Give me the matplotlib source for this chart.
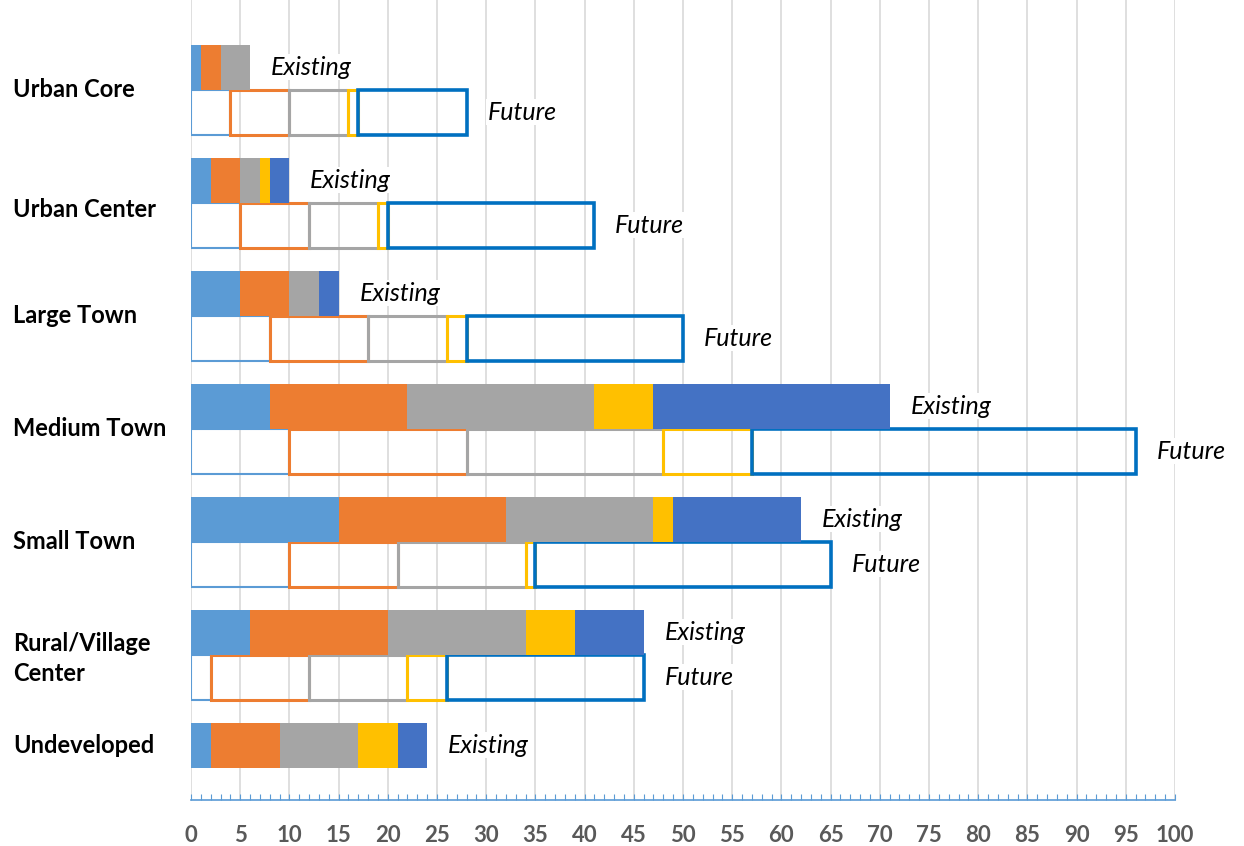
import matplotlib.pyplot as plt
from matplotlib.transforms import blended_transform_factory
from matplotlib.ticker import MultipleLocator

categories = ["Urban Core", "Urban Center", "Large Town", "Medium Town",
              "Small Town", "Rural/Village\nCenter", "Undeveloped"]

# existing, one list per colour band (left to right)
ex_s1 = [1, 2, 5, 8, 15, 6, 2]
ex_s2 = [2, 3, 5, 14, 17, 14, 7]
ex_s3 = [3, 2, 3, 19, 15, 14, 8]
ex_s4 = [0, 1, 0, 6, 2, 5, 4]
ex_s5 = [0, 2, 2, 24, 13, 7, 3]

# future (no future bar for Undeveloped)
fu_s1 = [4, 5, 8, 10, 10, 2]
fu_s2 = [6, 7, 10, 18, 11, 10]
fu_s3 = [6, 7, 8, 20, 13, 10]
fu_s4 = [1, 1, 2, 9, 1, 4]
fu_s5 = [11, 21, 22, 39, 30, 20]

fill_colors = ["#5B9BD5", "#ED7D31", "#A5A5A5", "#FFC000", "#4472C4"]
edge_colors = ["#5B9BD5", "#ED7D31", "#A5A5A5", "#FFC000", "#0070C0"]
edge_widths = [1.5, 2.2, 2.2, 2.2, 2.6]

plt.rcParams['font.family'] = ['Lato', 'DejaVu Sans']

fig = plt.figure(figsize=(12.44, 8.46), dpi=100)
ax = fig.add_axes([191 / 1244, 46 / 846, 984 / 1244, 800 / 846])

h = 0.4
n = len(categories)
ex_y = [i - 0.2 for i in range(n)]
fu_y = [i + 0.2 for i in range(len(fu_s1))]

# future outlines
left = [0] * len(fu_s1)
for vals, ec, lw in zip([fu_s1, fu_s2, fu_s3, fu_s4, fu_s5], edge_colors, edge_widths):
    ax.barh(fu_y, vals, height=h, left=left, facecolor='none',
            edgecolor=ec, linewidth=lw, zorder=3)
    left = [a + b for a, b in zip(left, vals)]
fu_tot = left

# existing filled bars
left = [0] * n
for vals, fc in zip([ex_s1, ex_s2, ex_s3, ex_s4, ex_s5], fill_colors):
    ax.barh(ex_y, vals, height=h, left=left, color=fc, linewidth=0, zorder=4)
    left = [a + b for a, b in zip(left, vals)]
ex_tot = left

lab_kw = dict(textcoords='offset points', va='center', ha='left',
              style='italic', fontsize=18, zorder=5,
              bbox=dict(facecolor='white', edgecolor='none', pad=1))
for y, t in zip(ex_y, ex_tot):
    ax.annotate("Existing", xy=(t, y), xytext=(15, 0), **lab_kw)
for y, t in zip(fu_y, fu_tot):
    ax.annotate("Future", xy=(t, y), xytext=(15, 0), **lab_kw)

# category labels on the left
trans = blended_transform_factory(fig.transFigure, ax.transData)
cat_y = [0, 0.06, 0, 0, 0, 0.03, -0.2]
for i, (c, dy) in enumerate(zip(categories, cat_y)):
    fig.text(13 / 1244, i + dy, c, transform=trans, ha='left', va='center',
             fontsize=17, fontweight='bold', linespacing=1.35)

ax.set_xlim(0, 100)
ax.set_ylim(6.285, -0.795)
ax.set_yticks([])
ax.xaxis.set_major_locator(MultipleLocator(5))
ax.xaxis.set_minor_locator(MultipleLocator(1))
ax.grid(axis='x', which='major', color='#D9D9D9', linewidth=1.2, zorder=0)
ax.set_axisbelow(True)
for s in ['left', 'top', 'right']:
    ax.spines[s].set_visible(False)
ax.spines['bottom'].set_color('#5B9BD5')
ax.spines['bottom'].set_linewidth(1.2)
ax.tick_params(axis='x', which='both', direction='in', color='#5B9BD5',
               length=4, width=0.8, pad=18)
for lbl in ax.get_xticklabels():
    lbl.set_fontweight('bold')
    lbl.set_fontsize(16)
    lbl.set_color('#595959')

fig.savefig("out.png", dpi=100)
